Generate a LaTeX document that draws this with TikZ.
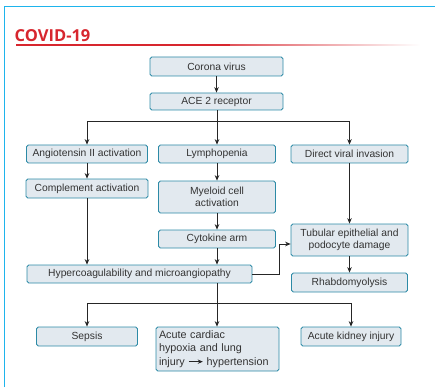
\documentclass[tikz,border=0pt]{standalone}
\usepackage{fontspec}
\setmainfont{Liberation Sans}
\newfontfamily\titlefont{Open Sans}
\usetikzlibrary{arrows.meta,calc}
\definecolor{boxfill}{HTML}{E2E9EF}
\definecolor{boxline}{HTML}{2C8AA6}
\definecolor{txt}{HTML}{333333}
\definecolor{framec}{HTML}{1EB4EC}
\definecolor{titlered}{HTML}{D7262E}
\tikzset{
  box/.style={draw=boxline, fill=boxfill, line width=0.8pt, rounded corners=1.8pt,
    text=txt, font=\fontsize{10.3}{12.2}\selectfont, inner sep=1pt, align=center},
  conn/.style={draw=black!85, line width=0.7pt},
  arr/.style={conn, -{Stealth[length=5.5pt,width=4.6pt]}},
}
\begin{document}
\begin{tikzpicture}[x=1pt,y=-1pt]
\useasboundingbox (0,0) rectangle (435,387);
% frame
\draw[framec, line width=1.6pt] (4.5,387) -- (4.5,6.5) -- (435,6.5);
% title
\node[anchor=south west, inner sep=0pt, text=titlered, font=\titlefont\bfseries\fontsize{16.5}{16.5}\selectfont] (title) at (14.5,42.3) {COVID-19};
\fill[titlered] (16,44.5) rectangle (230,45.7);
\shade[left color=titlered!80, right color=white] (230,44.5) rectangle (420,45.7);
% nodes
\node[box, minimum width=133pt, minimum height=19pt] (cv) at (216.5,66.5) {Corona virus};
\node[box, minimum width=133pt, minimum height=17pt] (ace) at (216.5,101.5) {ACE 2 receptor};
\node[box, minimum width=121pt, minimum height=18pt] (ang) at (87,154) {Angiotensin II activation};
\node[box, minimum width=117pt, minimum height=18pt] (lym) at (217,154) {Lymphopenia};
\node[box, minimum width=117pt, minimum height=18pt] (dvi) at (349.5,154) {Direct viral invasion};
\node[box, minimum width=122pt, minimum height=19pt] (comp) at (87,188.5) {Complement activation};
\node[box, minimum width=117pt, minimum height=32pt] (mye) at (217,197) {Myeloid cell\\activation};
\node[box, minimum width=117pt, minimum height=18pt] (cyt) at (217,239) {Cytokine arm};
\node[box, minimum width=117pt, minimum height=32pt] (tub) at (349.5,240) {Tubular epithelial and\\podocyte damage};
\node[box, minimum width=225pt, minimum height=18pt] (hyp) at (139.5,274) {Hypercoagulability and microangiopathy};
\node[box, minimum width=116pt, minimum height=19pt] (rha) at (349.5,282.5) {Rhabdomyolysis};
\node[box, minimum width=101pt, minimum height=19pt] (sep) at (87,336.5) {Sepsis};
\node[box, minimum width=123pt, minimum height=44pt, align=left, text width=117pt, font=\fontsize{10.8}{13.3}\selectfont] (acu) at (217.5,349) {Acute cardiac\\hypoxia and lung\\injury \tikz[baseline=-0.6ex]\draw[black!85, line width=0.7pt, -{Stealth[length=5pt,width=4.3pt]}] (0,0) -- (14pt,0);\ hypertension};
\node[box, minimum width=100pt, minimum height=19pt] (aki) at (351,336.5) {Acute kidney injury};
% coordinates
\coordinate (s1) at (217,121);
\coordinate (s2) at (217,303);
% connectors
\draw[arr] (cv) -- (ace);
\draw[conn] (s1 |- ace.south) -- (s1);
\draw[arr] (s1) -| (ang.north);
\draw[arr] (s1) -- (lym.north);
\draw[arr] (s1) -| (dvi.north);
\draw[arr] (ang) -- (comp);
\draw[arr] (comp.south) -- (comp.south |- hyp.north);
\draw[arr] (lym) -- (mye);
\draw[arr] (mye) -- (cyt);
\draw[arr] (cyt.south) -- (cyt.south |- hyp.north);
\draw[arr] (dvi) -- (tub);
\draw[arr] (tub) -- (rha);
\draw[arr] (hyp.east) -- ++(27,0) |- ([yshift=-4pt]tub.west);
\draw[conn] (s2 |- hyp.south) -- (s2);
\draw[arr] (s2) -| (sep.north);
\draw[arr] (s2) -- (s2 |- acu.north);
\draw[arr] (s2) -| (aki.north);
\end{tikzpicture}
\end{document}
